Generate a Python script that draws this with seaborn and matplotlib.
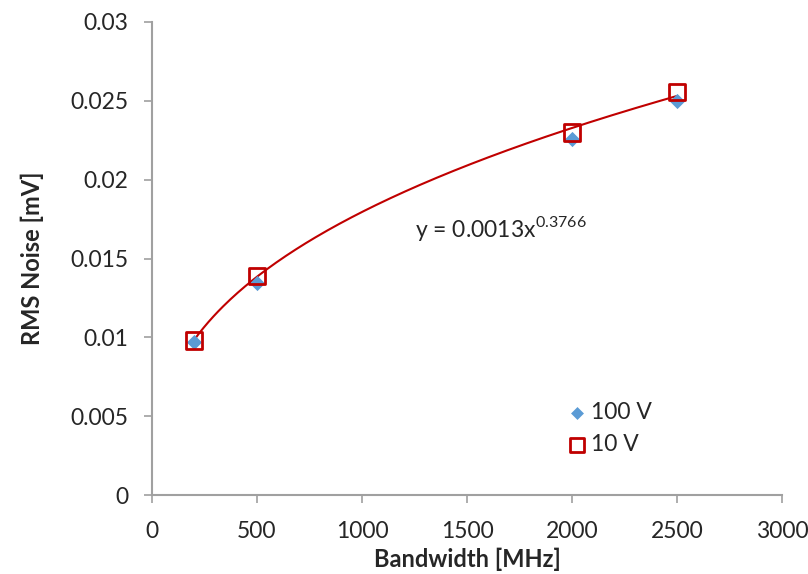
import numpy as np
import pandas as pd
import matplotlib
matplotlib.use("Agg")
import matplotlib.pyplot as plt
import seaborn as sns

bandwidth = [200, 500, 2000, 2500]
noise_100v = [0.0097, 0.01345, 0.02255, 0.0250]
noise_10v = [0.0098, 0.0139, 0.0230, 0.02555]
x_ticks = [0, 500, 1000, 1500, 2000, 2500, 3000]
y_ticks = [0, 0.005, 0.01, 0.015, 0.02, 0.025, 0.03]
y_tick_labels = ["0", "0.005", "0.01", "0.015", "0.02", "0.025", "0.03"]
equation = "y = 0.0013x$^{\\mathregular{0.3766}}$"

sns.set_style("white")
plt.rcParams['font.family'] = ['Lato', 'DejaVu Sans']
plt.rcParams['mathtext.fontset'] = 'custom'
plt.rcParams['mathtext.rm'] = 'Lato'

fig = plt.figure(figsize=(8.08, 5.74), dpi=100)
ax = fig.add_axes([0.188, 0.1376, 0.780, 0.8241])

# power-law trendline fitted to the 10 V series
b, loga = np.polyfit(np.log(bandwidth), np.log(noise_10v), 1)
xs = np.linspace(min(bandwidth), max(bandwidth), 200)
trend = pd.DataFrame({"x": xs, "y": np.exp(loga) * xs ** b})
sns.lineplot(data=trend, x="x", y="y", ax=ax, color="#C00000", linewidth=1.5, legend=False)

df100 = pd.DataFrame({"bw": bandwidth, "noise": noise_100v})
df10 = pd.DataFrame({"bw": bandwidth, "noise": noise_10v})
sns.scatterplot(data=df100, x="bw", y="noise", ax=ax, marker="D", s=60,
                color="#5B9BD5", edgecolor="#5B9BD5", linewidth=0, label="100 V", zorder=3)
sns.scatterplot(data=df10, x="bw", y="noise", ax=ax, marker="s", s=140,
                facecolor="none", edgecolor="#C00000", linewidth=2, label="10 V", zorder=4)

ax.set_xlim(0, 3000)
ax.set_ylim(0, 0.03)
ax.set_xticks(x_ticks)
ax.set_xticklabels([str(t) for t in x_ticks])
ax.set_yticks(y_ticks)
ax.set_yticklabels(y_tick_labels)
ax.tick_params(axis="both", which="major", labelsize=16.5, length=6, width=1.2,
               color="#A0A0A0", direction="out", bottom=True, left=True)
ax.tick_params(axis="x", pad=13)
ax.tick_params(axis="y", pad=11)
for s in ["top", "right"]:
    ax.spines[s].set_visible(False)
for s in ["left", "bottom"]:
    ax.spines[s].set_color("#A0A0A0")
    ax.spines[s].set_linewidth(1.5)

ax.set_xlabel("Bandwidth [MHz]", fontsize=17, fontweight="bold", labelpad=4)
ax.set_ylabel("RMS Noise [mV]", fontsize=17, fontweight="bold", labelpad=19)

ax.text(1252, 0.0169, equation, fontsize=16.5, va="center", ha="left")

leg = ax.legend(loc="upper left", bbox_to_anchor=(0.64, 0.215), frameon=False,
                fontsize=16.5, handletextpad=0.05, handlelength=1.1, labelspacing=0.45,
                borderaxespad=0, markerscale=0.85)

fig.savefig("out.png", dpi=100)
